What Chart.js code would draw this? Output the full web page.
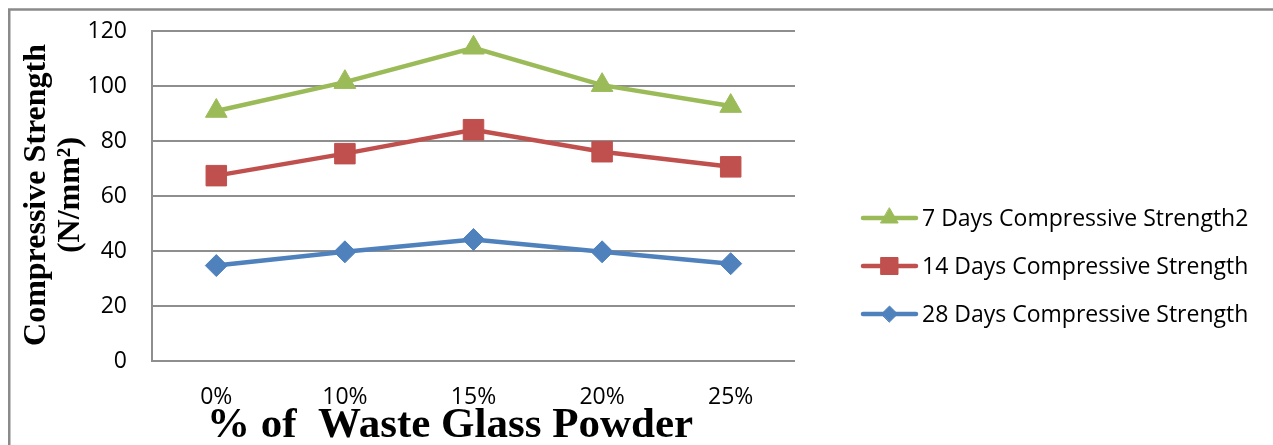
<!DOCTYPE html>
<html>
<head>
<meta charset="utf-8">
<script src="https://cdn.jsdelivr.net/npm/chart.js@4.4.1/dist/chart.umd.min.js"></script>
<style>
  html, body { margin: 0; padding: 0; background: #ffffff; }
  #wrap { width: 1273px; height: 445px; position: relative; }
</style>
</head>
<body>
<div id="wrap"><canvas id="c"></canvas></div>
<script>
// Glass powder replacement levels
const categories = ['0%', '10%', '15%', '20%', '25%'];

// Compressive strength (N/mm²) by curing age
const strength7Days  = [90.9, 101.4, 113.9, 100.3, 92.7];
const strength14Days = [67.4, 75.4, 84.1, 76.1, 70.6];
const strength28Days = [34.7, 39.7, 44.2, 39.7, 35.4];

const seriesLabels = [
  '7 Days Compressive Strength2',
  '14 Days Compressive Strength',
  '28 Days Compressive Strength'
];

const yTicks = [0, 20, 40, 60, 80, 100, 120];

const yTitleLines = ['Compressive Strength', '(N/mm²)'];
const xTitle = '% of  Waste Glass Powder';

const GREEN = '#9BBB59';
const RED = '#C0504D';
const BLUE = '#4F81BD';
const GRID = '#8e8e8e';
const TICK_FONT = { family: 'Open Sans', size: 23 };

function series(label, data, color, style, radius, legendRadius) {
  return {
    label, data,
    borderColor: color,
    backgroundColor: color,
    borderWidth: 4.5,
    pointStyle: style,
    pointRadius: radius,
    pointHoverRadius: radius,
    pointBorderWidth: 1,
    pointBackgroundColor: color,
    pointBorderColor: color,
    tension: 0,
    legendRadius
  };
}

// Outer frame of the chart object
const framePlugin = {
  id: 'frame',
  beforeDraw(chart) {
    const ctx = chart.ctx;
    ctx.save();
    ctx.strokeStyle = '#8a8a8a';
    ctx.lineWidth = 2.5;
    ctx.beginPath();
    ctx.moveTo(9.25, 445);
    ctx.lineTo(9.25, 9.5);
    ctx.lineTo(1273, 9.5);
    ctx.stroke();
    ctx.restore();
  }
};

// Axis titles in bold serif
const titlesPlugin = {
  id: 'titles',
  afterDraw(chart) {
    const ctx = chart.ctx;
    ctx.save();
    ctx.fillStyle = '#000';
    ctx.font = 'bold 32px "Liberation Serif"';
    ctx.textAlign = 'center';
    ctx.textBaseline = 'alphabetic';
    ctx.translate(0, 195);
    ctx.rotate(-Math.PI / 2);
    ctx.fillText(yTitleLines[0], 0, 45);
    ctx.fillText(yTitleLines[1], 0, 79);
    ctx.restore();

    ctx.save();
    ctx.fillStyle = '#000';
    ctx.font = 'bold 43px "Liberation Serif"';
    ctx.textAlign = 'center';
    ctx.textBaseline = 'alphabetic';
    ctx.fillText(xTitle, 450, 437);
    ctx.restore();
  }
};

// Legend: line sample with marker, then the series name
const legendPlugin = {
  id: 'lineLegend',
  afterDraw(chart) {
    const ctx = chart.ctx;
    const rows = [218, 266, 314];
    chart.data.datasets.forEach((ds, i) => {
      const y = rows[i];
      ctx.save();
      ctx.strokeStyle = ds.borderColor;
      ctx.lineWidth = 4.5;
      ctx.lineCap = 'round';
      ctx.beginPath();
      ctx.moveTo(863, y);
      ctx.lineTo(916, y);
      ctx.stroke();
      ctx.fillStyle = ds.pointBackgroundColor;
      ctx.strokeStyle = ds.pointBorderColor;
      ctx.lineWidth = 1;
      Chart.helpers.drawPoint(ctx, {
        pointStyle: ds.pointStyle,
        radius: ds.legendRadius,
        rotation: 0,
        borderWidth: 1
      }, 889.5, y);
      ctx.fillStyle = '#000';
      ctx.font = '23px "Open Sans"';
      ctx.textAlign = 'left';
      ctx.textBaseline = 'middle';
      ctx.fillText(ds.label, 922, y + 1);
      ctx.restore();
    });
  }
};

new Chart(document.getElementById('c'), {
  type: 'line',
  data: {
    labels: categories,
    datasets: [
      series(seriesLabels[0], strength7Days, GREEN, 'triangle', 12.5, 10),
      series(seriesLabels[1], strength14Days, RED, 'rect', 14.5, 12),
      series(seriesLabels[2], strength28Days, BLUE, 'rectRot', 11, 8)
    ]
  },
  options: {
    responsive: true,
    maintainAspectRatio: false,
    animation: false,
    events: [],
    layout: { padding: { left: 0, top: 31, right: 478, bottom: 0 } },
    plugins: {
      legend: { display: false },
      tooltip: { enabled: false }
    },
    scales: {
      x: {
        offset: true,
        grid: { display: false, drawTicks: false },
        border: { display: false },
        ticks: { color: '#000', font: TICK_FONT, padding: 23, maxRotation: 0 },
        afterFit(scale) { scale.height = 84; }
      },
      y: {
        min: 0,
        max: 120,
        afterBuildTicks(scale) { scale.ticks = yTicks.map(v => ({ value: v })); },
        grid: { color: GRID, lineWidth: 2, drawTicks: false },
        border: { display: true, color: GRID, width: 2 },
        ticks: { color: '#000', font: TICK_FONT, padding: 25 },
        afterFit(scale) {
          scale.width = 152;
          scale.paddingTop = 14;
          scale.paddingBottom = 14;
        }
      }
    }
  },
  plugins: [framePlugin, titlesPlugin, legendPlugin]
});
</script>
</body>
</html>
